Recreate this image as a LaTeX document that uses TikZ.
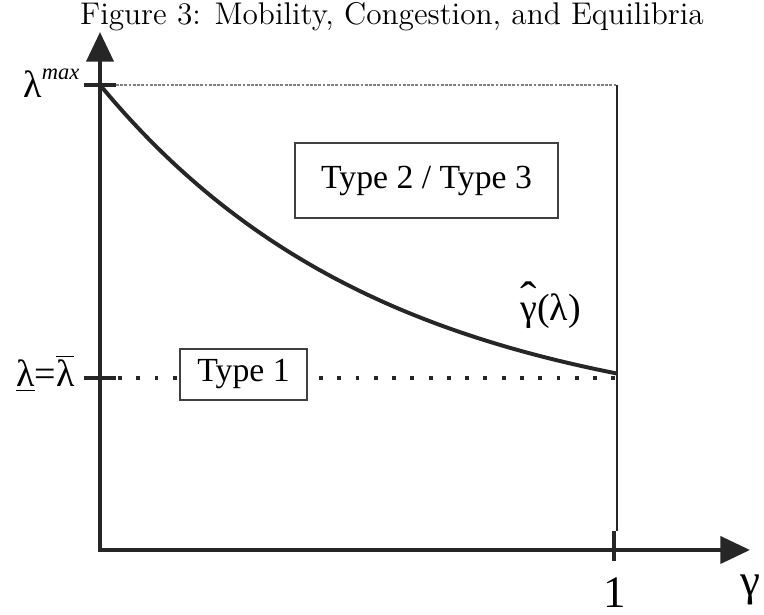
\documentclass[tikz,border=0pt]{standalone}
\usepackage{fontspec}
\newfontfamily\tmsfont{Liberation Serif}
\usetikzlibrary{arrows.meta}
\tikzset{
  axisline/.style={line width=1.6pt,draw=black!85,
    {Triangle[length=10.5pt,width=9.5pt]}-{Triangle[length=10.5pt,width=9.5pt]}},
  axtick/.style={line width=1.5pt,draw=black!85},
  gcurve/.style={line width=1.4pt,draw=black!85},
  lowdots/.style={line width=1.4pt,draw=black!85,dash pattern=on 1.4pt off 5.1pt},
  typebox/.style={draw=black!75,line width=0.5pt,inner sep=0pt,
    font=\tmsfont\fontsize{12}{14}\selectfont},
  lbl/.style={inner sep=0pt,font=\tmsfont\fontsize{13.5}{16}\selectfont},
  biglbl/.style={inner sep=0pt,font=\tmsfont\fontsize{16}{19}\selectfont},
}
\newcommand{\hatgam}{\ooalign{γ\cr\hidewidth\raisebox{2.5pt}{\scalebox{1.3}[1.2]{ˆ}}\hidewidth\cr}}
\begin{document}
\begin{tikzpicture}[x=1.25cm,y=1.25cm]
  \useasboundingbox (-1.00,-0.65) rectangle (6.64,5.50);
  \node (title) at (2.92,5.33) {\fontsize{11.15}{13}\selectfont Figure 3: Mobility, Congestion, and Equilibria};
  % axes and ticks
  \draw[axisline] (0,5.18) -- (0,0) -- (6.50,0);
  \draw[axtick] (-0.16,4.65) -- (0.16,4.65);
  \draw[axtick] (-0.16,1.72) -- (0.16,1.72);
  \draw[axtick] (5.14,-0.11) -- (5.14,0.19);
  \coordinate (lvl) at (0,1.72);
  % upper bound and gamma = 1
  \draw[black!50,line width=0.4pt,dash pattern=on 1pt off 0.5pt] (0.16,4.65) -- (5.17,4.65);
  \draw[black!85,line width=0.5pt] (5.17,4.65) -- (5.17,0.19);
  % regions
  \node[typebox,minimum width=1.5875cm,minimum height=0.6375cm] (type1) at (1.435,1.755) {Type 1};
  \node[typebox,minimum width=3.29cm,minimum height=0.94cm] (type23) at (3.265,3.695) {Type 2 / Type 3};
  \draw[lowdots] (0.18,1.72) -- (type1.west |- lvl);
  \draw[lowdots,shorten <=4pt] (type1.east |- lvl) -- (5.17,1.72);
  % boundary curve
  \draw[gcurve,domain=0:5.17,samples=100] plot (\x,{1.2+3.45*exp(-0.35*\x)});
  \node[lbl,anchor=base west] (ghat) at (4.20,2.29) {\hatgam(λ)};
  % labels
  \node[lbl,anchor=base east] (lmax) at (-0.20,4.52)
    {λ\raisebox{6.4pt}{\fontsize{8}{9}\selectfont\itshape max}};
  \node[lbl,anchor=base east] (lbar) at (-0.25,1.63) {\underline{λ}=$\overline{\hbox{λ}}$};
  \node[biglbl,anchor=base] (one) at (5.15,-0.58) {1};
  \node[biglbl,anchor=base] (gam) at (6.50,-0.46) {γ};
\end{tikzpicture}
\end{document}
